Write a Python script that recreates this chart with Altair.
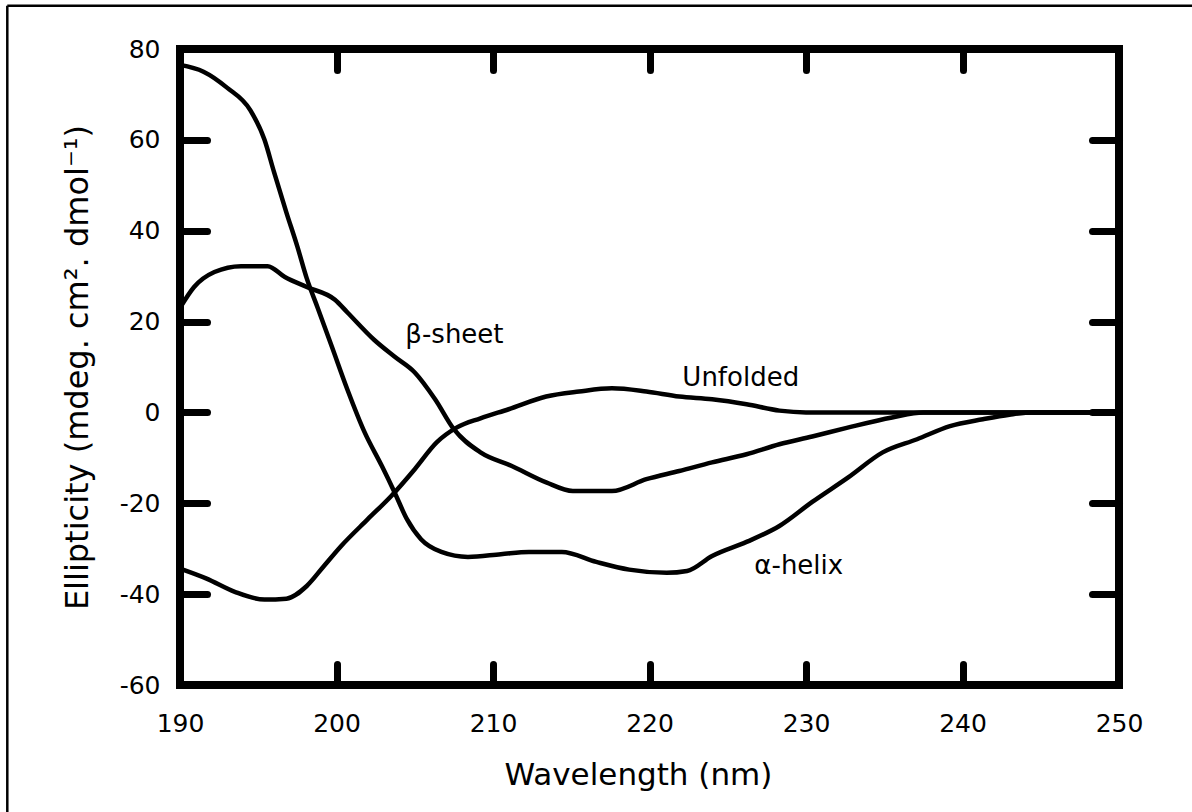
import altair as alt
import pandas as pd

# ---- data ----
alpha_nm = [190, 191.5, 193, 194.5, 195.4, 196, 196.8, 197.5, 198.1, 198.8, 199.7, 200.7,
            201.8, 202.9, 203.7, 204.5, 205.4, 206.7, 208.4, 210.5, 212.3, 214.4, 216.6,
            218.7, 221.1, 222.4, 224, 226.2, 228.3, 230.4, 232.7, 234.9, 237.1, 239.2,
            241.3, 243, 244.5, 250]
alpha_val = [76.5, 75, 71.5, 66.5, 60, 53, 44, 36.5, 29.5, 23, 14.5, 5,
             -4.4, -11.8, -17.5, -23.5, -27.9, -30.7, -31.8, -31.2, -30.7, -30.7, -32.9,
             -34.6, -35.3, -34.9, -31.6, -28.5, -25, -19.7, -14.3, -8.8, -5.9, -3,
             -1.5, -0.5, 0, 0]

beta_nm = [190, 190.9, 192.2, 193.9, 195.6, 196.7, 198.1, 199.9, 200.7, 202.4, 203.7,
           205, 206.3, 207.5, 209.2, 211.2, 213.4, 215.1, 217.6, 219.8, 221.9, 224,
           226.2, 228.3, 230.4, 232.6, 235.5, 237.5, 250]
beta_val = [23, 27.6, 30.9, 32.2, 32.2, 29.8, 27.6, 24.8, 22, 16, 12.3,
            8.8, 2.9, -3.7, -8.8, -11.8, -15.4, -17.3, -17.3, -14.7, -12.9, -11,
            -9.2, -7, -5.3, -3.4, -1.1, 0, 0]

unf_nm = [190, 191.7, 193.5, 195.4, 196.8, 198.1, 199.2, 200.3, 202, 203.5, 205,
          206.4, 207.7, 209.2, 211, 213.4, 215.5, 217.6, 219.8, 221.9, 224, 226.2,
          228.3, 230, 250]
unf_val = [-34.4, -36.6, -39.5, -41.2, -41, -38.2, -33.8, -29.4, -23.5, -18.4, -12.5,
           -6.6, -3.3, -1.3, 0.7, 3.5, 4.6, 5.3, 4.6, 3.5, 2.9, 1.8,
           0.4, 0, 0]

label_text = ["β-sheet", "Unfolded", "α-helix"]
label_nm = [204.4, 222.1, 226.7]
label_val = [15.3, 5.8, -35.6]

x_label_values = [190, 200, 210, 220, 230, 240, 250]
y_label_values = [-60, -40, -20, 0, 20, 40, 60, 80]
x_inner_ticks = [200, 210, 220, 230, 240]
y_inner_ticks = [-40, -20, 0, 20, 40, 60]

# ---- tables ----
rows = []
for name, xs, ys in [("alpha", alpha_nm, alpha_val),
                     ("beta", beta_nm, beta_val),
                     ("unfolded", unf_nm, unf_val)]:
    for i, (x, y) in enumerate(zip(xs, ys)):
        rows.append({"series": name, "nm": x, "val": y, "order": i})
curves = pd.DataFrame(rows)
labels_df = pd.DataFrame({"label": label_text, "nm": label_nm, "val": label_val})

FONT = "DejaVu Sans"
xscale = alt.Scale(domain=[190, 250], nice=False, zero=False)
yscale = alt.Scale(domain=[-60, 80], nice=False, zero=False)

tick_axis = dict(labels=False, domain=False, grid=False, title=None, ticks=True,
                 tickColor="black", tickWidth=7, tickCap="round")

lines = alt.Chart(curves).mark_line(
    color="black", strokeWidth=4.5, strokeJoin="round", strokeCap="round",
    interpolate="monotone"
).encode(
    x=alt.X("nm:Q", scale=xscale,
            axis=alt.Axis(orient="bottom", values=x_label_values, ticks=False, tickSize=0,
                          domain=False, grid=False, labelFont=FONT, labelFontSize=25,
                          labelColor="black", labelPadding=26, labelFlush=False,
                          title="Wavelength (nm)", titleFont=FONT, titleFontSize=31,
                          titleFontWeight="normal", titleColor="black", titlePadding=24,
                          titleX=458)),
    y=alt.Y("val:Q", scale=yscale,
            axis=alt.Axis(orient="left", values=y_label_values, ticks=False, tickSize=0,
                          domain=False, grid=False, labelFont=FONT, labelFontSize=25,
                          labelColor="black", labelPadding=20, labelFlush=False,
                          labelExpr="datum.value < 0 ? '-' + abs(datum.value) : '' + datum.value",
                          title="Ellipticity (mdeg. cm². dmol⁻¹)", titleFont=FONT,
                          titleFontSize=32, titleFontWeight="normal", titleColor="black",
                          titlePadding=25)),
    detail="series:N",
    order="order:Q",
)

texts = alt.Chart(labels_df).mark_text(
    font=FONT, fontSize=26, align="left", baseline="alphabetic", color="black"
).encode(
    x=alt.X("nm:Q", scale=xscale,
            axis=alt.Axis(orient="bottom", offset=-21, tickSize=21, values=x_inner_ticks, **tick_axis)),
    y=alt.Y("val:Q", scale=yscale,
            axis=alt.Axis(orient="left", offset=-27, tickSize=27, values=y_inner_ticks, **tick_axis)),
    text="label:N",
)

ghost = alt.Chart(labels_df).mark_point(opacity=0).encode(
    x=alt.X("nm:Q", scale=xscale,
            axis=alt.Axis(orient="top", offset=-21, tickSize=21, values=x_inner_ticks, **tick_axis)),
    y=alt.Y("val:Q", scale=yscale,
            axis=alt.Axis(orient="right", offset=-27, tickSize=27, values=y_inner_ticks, **tick_axis)),
)

frame_df = pd.DataFrame({"k": [0]})
frame_left = alt.Chart(frame_df).mark_rule(color="black", strokeWidth=2.5).encode(
    x=alt.value(-172.7), y=alt.value(-43.3), y2=alt.value(800)
)
frame_top = alt.Chart(frame_df).mark_rule(color="black", strokeWidth=2.5).encode(
    y=alt.value(-43.3), x=alt.value(-172.7), x2=alt.value(1050)
)

chart = alt.layer(frame_left, frame_top, lines, texts, ghost).resolve_axis(
    x="independent", y="independent"
).properties(
    width=939, height=636,
    autosize=alt.AutoSizeParams(type="none"),
    padding={"left": 180, "top": 49, "right": 73, "bottom": 127},
).configure_view(stroke="black", strokeWidth=8)

chart.save("out.html", embed_options={"renderer": "svg", "actions": False})
